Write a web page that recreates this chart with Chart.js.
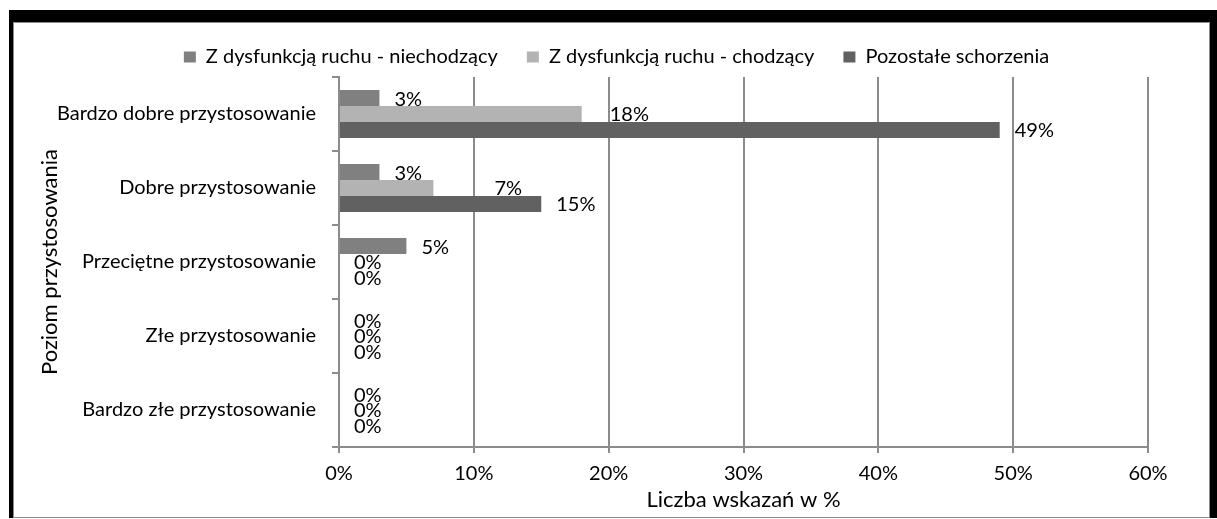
<!DOCTYPE html>
<html>
<head>
<meta charset="utf-8">
<script src="https://cdn.jsdelivr.net/npm/chart.js@4"></script>
<style>
    body { margin: 0; background: #fff; }
    .ramka {
        position: absolute;
        left: 9px;
        top: 10px;
        border-top: 12px solid #000;
        border-left: 4px solid #000;
        border-right: 7px solid #000;
    }
    .wnetrze {
        border: 1px solid #8c8c8c;
        width: 1195px;
        height: 494px;
    }
</style>
</head>
<body>
<div class="ramka">
    <div class="wnetrze">
        <canvas id="wykres" width="1195" height="494"></canvas>
    </div>
</div>
<script>
// Dane (w %)
const kategorie = [
    'Bardzo dobre przystosowanie',
    'Dobre przystosowanie',
    'Przeciętne przystosowanie',
    'Złe przystosowanie',
    'Bardzo złe przystosowanie'
];
const niechodzacy = [3, 3, 5, 0, 0];
const chodzacy = [18, 7, 0, 0, 0];
const pozostale = [49, 15, 0, 0, 0];

const szary = '#8c8c8c';
Chart.defaults.font.family = 'Lato';
Chart.defaults.font.size = 20;
Chart.defaults.color = '#000';

// Etykiety z wartościami za końcem słupków
const etykietyPlugin = {
    id: 'etykiety',
    afterDatasetsDraw(chart, args, opts) {
        const ctx = chart.ctx;
        ctx.save();
        ctx.font = '20px Lato';
        ctx.fillStyle = '#000';
        ctx.textAlign = 'left';
        ctx.textBaseline = 'middle';
        chart.data.datasets.forEach((ds, i) => {
            chart.getDatasetMeta(i).data.forEach((bar, j) => {
                const przesun = opts.przesun[i + '-' + j] || 0;
                ctx.fillText(ds.data[j] + '%', bar.x + opts.odstep + przesun, bar.y + 1);
            });
        });
        ctx.restore();
    }
};

new Chart(document.getElementById('wykres'), {
    type: 'bar',
    data: {
        labels: kategorie,
        datasets: [
            { label: 'Z dysfunkcją ruchu - niechodzący', data: niechodzacy, backgroundColor: '#808080' },
            { label: 'Z dysfunkcją ruchu - chodzący', data: chodzacy, backgroundColor: '#b3b3b3' },
            { label: 'Pozostałe schorzenia', data: pozostale, backgroundColor: '#616161' }
        ]
    },
    options: {
        indexAxis: 'y',
        responsive: false,
        animation: false,
        categoryPercentage: 0.646,
        barPercentage: 1,
        layout: { padding: { top: -5, left: 10, right: 0, bottom: 0 } },
        plugins: {
            legend: {
                position: 'top',
                labels: { boxWidth: 12, boxHeight: 11, padding: 29, color: '#000' }
            },
            tooltip: { enabled: false },
            etykiety: { odstep: 15, przesun: { '1-0': 13, '1-1': 46 } }
        },
        scales: {
            x: {
                min: 0,
                max: 60,
                ticks: { stepSize: 10, padding: 9, callback: v => v + '%' },
                grid: { color: szary, lineWidth: 2, tickLength: 6 },
                border: { color: szary, width: 2 },
                title: { display: true, text: 'Liczba wskazań w %', font: { size: 22 }, padding: { top: 0, bottom: 4 } },
                afterFit: s => { s.height = 70; }
            },
            y: {
                ticks: { padding: 16 },
                grid: { color: szary, lineWidth: 2, tickLength: 7, drawOnChartArea: false },
                border: { color: szary, width: 2 },
                title: { display: true, text: 'Poziom przystosowania', font: { size: 22 }, padding: { top: 13, bottom: 0 } },
                afterFit: s => { s.width = 315; }
            },
            // pusta oś po prawej - tylko margines
            yPrawa: {
                type: 'linear',
                position: 'right',
                ticks: { display: false },
                grid: { display: false },
                border: { display: false },
                afterFit: s => { s.width = 61; }
            }
        }
    },
    plugins: [etykietyPlugin]
});
</script>
</body>
</html>
